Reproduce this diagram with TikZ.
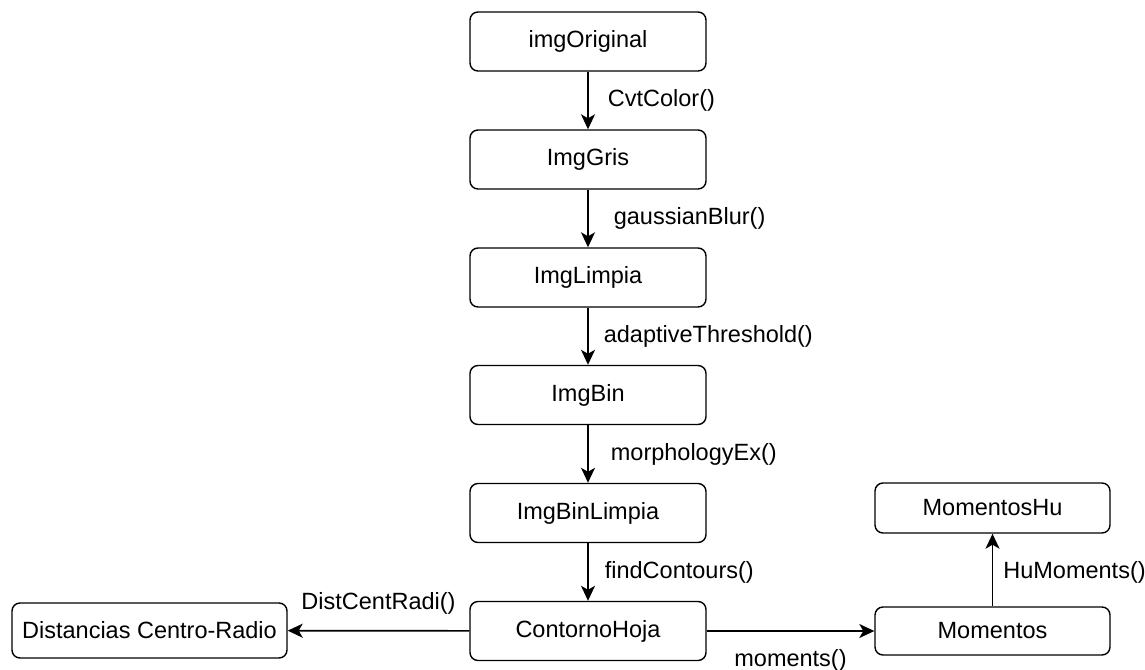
\documentclass[tikz,border=0pt]{standalone}
\usepackage{fontspec}
\setmainfont{Liberation Sans}
\usetikzlibrary{arrows.meta}
\newcommand{\lblfont}{\fontsize{23.5}{27}\selectfont}
\tikzset{
  box/.style={draw, line width=1.4pt, rounded corners=8pt, minimum width=236pt,
              minimum height=59pt, inner sep=0pt, font=\lblfont},
  arr/.style={line width=1.7pt, -{Stealth[length=15pt,width=14pt,inset=4pt]}},
  lbl/.style={font=\lblfont, inner sep=0pt}
}
\begin{document}
\begin{tikzpicture}[x=1pt,y=-1pt]
\useasboundingbox (0,0) rectangle (1145,669);
\fill[white] (0,0) rectangle (1145,669);

% main processing column
\node[box] (orig)  at (588,41.5)  {imgOriginal};
\node[box] (gris)  at (588,159.5) {ImgGris};
\node[box] (limp)  at (588,277.5) {ImgLimpia};
\node[box] (bin)   at (588,395)   {ImgBin};
\node[box] (binl)  at (588,513)   {ImgBinLimpia};
\node[box] (cont)  at (588,631)   {ContornoHoja};

% side results
\node[box, minimum width=275pt, minimum height=55pt] (dist) at (149.5,630.5) {Distancias Centro-Radio};
\node[box, minimum width=235pt, minimum height=48pt] (mom)  at (992.5,631)   {Momentos};
\node[box, minimum width=235pt, minimum height=50pt] (hu)   at (992.5,508)   {MomentosHu};

% operations
\draw[arr] (orig) -- node[lbl, anchor=west, xshift=19pt] {CvtColor()} (gris);
\draw[arr] (gris) -- node[lbl, anchor=west, xshift=25pt] {gaussianBlur()} (limp);
\draw[arr] (limp) -- node[lbl, anchor=west, xshift=15pt] {adaptiveThreshold()} (bin);
\draw[arr] (bin)  -- node[lbl, anchor=west, xshift=22pt] {morphologyEx()} (binl);
\draw[arr] (binl) -- node[lbl, anchor=west, xshift=16pt] {findContours()} (cont);
\draw[arr] (cont) -- node[lbl, yshift=27pt] {DistCentRadi()} (dist);
\draw[arr] (cont) -- node[lbl, yshift=-29pt] {moments()} (mom);
\draw[arr] (mom)  -- node[lbl, anchor=west, xshift=10pt, yshift=-2pt] {HuMoments()} (hu);
\end{tikzpicture}
\end{document}
